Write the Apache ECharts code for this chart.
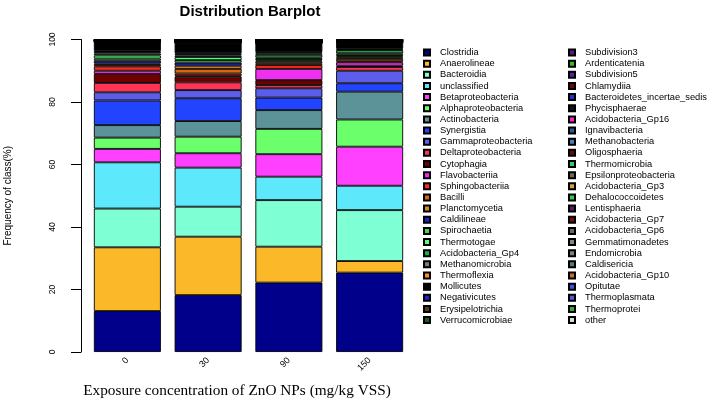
<!DOCTYPE html>
<html>
<head>
<meta charset="utf-8">
<script src="https://cdn.jsdelivr.net/npm/echarts@6/dist/echarts.min.js"></script>
<style>html,body{margin:0;padding:0;background:#fff}#c{width:709px;height:400px}</style>
</head>
<body>
<div id="c"></div>
<script>
var concentrations = ['0', '30', '90', '150'];
var classes = ['Clostridia','Anaerolineae','Bacteroidia','unclassified','Betaproteobacteria','Alphaproteobacteria','Actinobacteria','Synergistia','Gammaproteobacteria','Deltaproteobacteria','Cytophagia','Flavobacteriia','Sphingobacteriia','Bacilli','Planctomycetia','Caldilineae','Spirochaetia','Thermotogae','Acidobacteria_Gp4','Methanomicrobia','Thermoflexia','Mollicutes','Negativicutes','Erysipelotrichia','Verrucomicrobiae',
'Subdivision3','Ardenticatenia','Subdivision5','Chlamydiia','Bacteroidetes_incertae_sedis','Phycisphaerae','Acidobacteria_Gp16','Ignavibacteria','Methanobacteria','Oligosphaeria','Thermomicrobia','Epsilonproteobacteria','Acidobacteria_Gp3','Dehalococcoidetes','Lentisphaeria','Acidobacteria_Gp7','Acidobacteria_Gp6','Gemmatimonadetes','Endomicrobia','Caldisericia','Acidobacteria_Gp10','Opitutae','Thermoplasmata','Thermoprotei','other'];
var colors = ['#00008B','#FBB829','#7FFFD4','#5DE8FC','#FF40FF','#6BFF6B','#5B9399','#2244FF','#5D5DEB','#FF3355','#700000','#F030F0','#FF2B1A','#E0620A','#D98A2E','#2020C8','#44DD44','#55FF77','#22AA44','#708080','#FF9020','#000000','#2222CC','#5C3A10','#1E5A28',
'#5A1A8A','#33BB33','#4A2A9A','#6A0A0A','#2233CC','#0A1A1A','#FF22CC','#2A5A9A','#4682B4','#6A0A0A','#33CC66','#6A6A5A','#D9A040','#33CC44','#5A1A6A','#7A0A0A','#6A6A6A','#808888','#7A857A','#4A8080','#CC6633','#4A4AE0','#5555DD','#33AA33','#D8D8D8'];
// frequency of class (%) per exposure concentration, in class order
var freq0 = [13.1,20.4,12.4,14.8,4.3,3.6,4.0,7.9,2.6,3.0,2.9,1.0,1.4,0.5,0.4,0.9,0.7,1.0,0.6,0.5,0.3,2.7,
0.08,0.05,0.06,0.03,0.05,0.04,0.03,0.06,0.02,0.04,0.03,0.05,0.04,0.03,0.03,0.02,0.04,0.03,0.02,0.03,0.02,0.02,0.03,0.02,0.02,0.02,0.01,0.08];
var freq30 = [18.2,18.7,9.6,12.5,4.6,5.3,5.0,7.3,2.6,2.5,1.8,0.3,0.7,1.5,1.0,1.0,0.8,1.0,0.5,0.4,0.3,3.3,
0.06,0.04,0.05,0.07,0.03,0.05,0.04,0.05,0.03,0.06,0.02,0.04,0.05,0.03,0.04,0.03,0.02,0.05,0.03,0.04,0.03,0.02,0.04,0.03,0.02,0.03,0.02,0.08];
var freq90 = [22.2,11.5,14.9,7.5,7.2,8.1,6.0,4.0,3.0,1.0,1.6,3.6,1.2,0.6,0.6,0.3,0.5,0.4,0.9,0.5,0.4,2.8,
0.05,0.07,0.04,0.06,0.05,0.03,0.04,0.08,0.03,0.05,0.04,0.03,0.06,0.04,0.05,0.03,0.04,0.05,0.03,0.04,0.03,0.04,0.03,0.05,0.03,0.04,0.03,0.04];
var freq150 = [25.4,3.7,16.3,7.8,12.5,8.7,8.9,2.7,4.0,1.2,0.4,1.1,0.3,0.8,0.5,0.3,0.4,0.6,1.0,0.3,0.2,1.8,
0.04,0.06,0.03,0.05,0.04,0.03,0.05,0.04,0.06,0.03,0.04,0.05,0.03,0.04,0.03,0.05,0.04,0.03,0.04,0.05,0.03,0.04,0.03,0.04,0.03,0.05,0.03,0.02];
var yTicks = [0, 20, 40, 60, 80, 100];

var font = 'Liberation Sans, Arial, Helvetica, sans-serif';
var series = classes.map(function (name, i) {
  return {
    name: name, type: 'bar', stack: 'total', barWidth: 67,
    itemStyle: { color: colors[i], borderColor: '#000', borderWidth: 0.9 },
    emphasis: { disabled: true },
    data: [freq0[i], freq30[i], freq90[i], freq150[i]]
  };
});
var legendCommon = {
  orient: 'vertical', top: 42, itemWidth: 6, itemHeight: 6, itemGap: 0.15,
  icon: 'rect', selectedMode: false,
  textStyle: { fontFamily: font, fontSize: 9.3, color: '#000', lineHeight: 11, padding: [0, 0, 0, 5] }
};
var chart = echarts.init(document.getElementById('c'), null, { renderer: 'canvas' });
chart.setOption({
  animation: false,
  backgroundColor: '#fff',
  title: [
    { text: 'Distribution Barplot', left: 245, top: -1, textAlign: 'center',
      textStyle: { fontFamily: font, fontSize: 15, fontWeight: 'bold', color: '#000' } },
    { text: 'Exposure concentration of ZnO NPs (mg/kg VSS)', left: 232, top: 378, textAlign: 'center',
      textStyle: { fontFamily: 'Liberation Serif, Times New Roman, serif', fontSize: 15.3, fontWeight: 'normal', color: '#000' } }
  ],
  legend: [
    Object.assign({}, legendCommon, { left: 418, data: classes.slice(0, 25) }),
    Object.assign({}, legendCommon, { left: 563, data: classes.slice(25) })
  ],
  grid: { left: 87, width: 323, top: 39.5, height: 312.5 },
  xAxis: {
    type: 'category', data: concentrations,
    axisLine: { show: false }, axisTick: { show: false },
    axisLabel: { rotate: 45, margin: 7, fontFamily: font, fontSize: 9, color: '#000' }
  },
  yAxis: {
    type: 'value', min: yTicks[0], max: yTicks[yTicks.length - 1], interval: 20, offset: 6,
    name: 'Frequency of class(%)', nameLocation: 'middle', nameGap: 68, nameRotate: 90,
    nameTextStyle: { fontFamily: font, fontSize: 10, color: '#000' },
    axisLine: { show: true, lineStyle: { color: '#000', width: 1 } },
    axisTick: { show: true, length: 10, lineStyle: { color: '#000' } },
    axisLabel: { rotate: 90, margin: 24, fontFamily: font, fontSize: 8.5, color: '#000' },
    splitLine: { show: false }
  },
  series: series
});
</script>
</body>
</html>
